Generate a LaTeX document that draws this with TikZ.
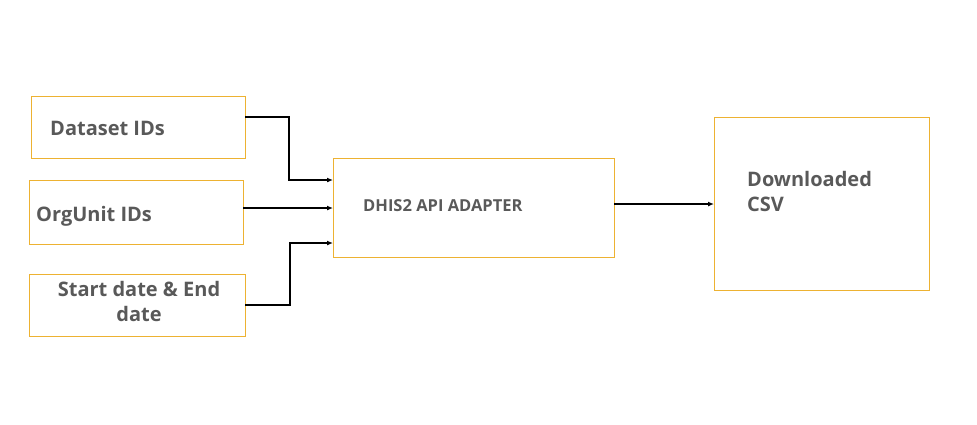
\documentclass[tikz,border=0pt]{standalone}
\usepackage{fontspec}
\setmainfont{Open Sans}
\usetikzlibrary{arrows.meta}
\definecolor{boxorange}{HTML}{EDB232}
\definecolor{txtgray}{HTML}{595959}
\tikzset{
  inbox/.style={draw=boxorange, line width=0.9pt, rectangle, inner sep=0pt},
  lbl/.style={text=txtgray, font=\bfseries\fontsize{20}{25}\selectfont, inner sep=0pt},
  conn/.style={draw=black, line width=1.6pt, -{Latex[length=6pt,width=5pt]}},
}
\begin{document}
\begin{tikzpicture}[x=1pt,y=-1pt]
\useasboundingbox (0,0) rectangle (977,424);
% boxes
\draw[inbox] (31,96) rectangle (245,158);
\coordinate (b1e) at (245,117);
\draw[inbox] (29,180) rectangle (243,244);
\coordinate (b2e) at (243,208);
\draw[inbox] (29,274) rectangle (245,336);
\coordinate (b3e) at (245,305);
\draw[inbox] (333,158) rectangle (614,257);
\draw[inbox] (714,117) rectangle (929,290);
% nodes for text
\node[lbl, anchor=west] (t1) at (50,128) {Dataset IDs};
\node[lbl, anchor=west] (t2) at (36,216) {OrgUnit IDs};
\node[lbl, align=center] (t3) at (139,301) {Start date \& End\\date};
\node[text=txtgray, font=\bfseries\fontsize{16.5}{19}\selectfont, inner sep=0pt, anchor=west] (t4) at (363,206) {DHIS2 API ADAPTER};
\node[lbl, align=left, anchor=north west] (t5) at (747,171) {Downloaded\\CSV};
% anchors on center box
\coordinate (c1) at (333,180);
\coordinate (c2) at (333,208);
\coordinate (c3) at (333,243);
\coordinate (co) at (614,204);
\coordinate (ri) at (714,204);
% connectors
\draw[conn] (b1e) -| (289,150) |- (c1);
\draw[conn] (b2e) -- (c2);
\draw[conn] (b3e) -| (290,270) |- (c3);
\draw[conn] (co) -- (ri);
\end{tikzpicture}
\end{document}
